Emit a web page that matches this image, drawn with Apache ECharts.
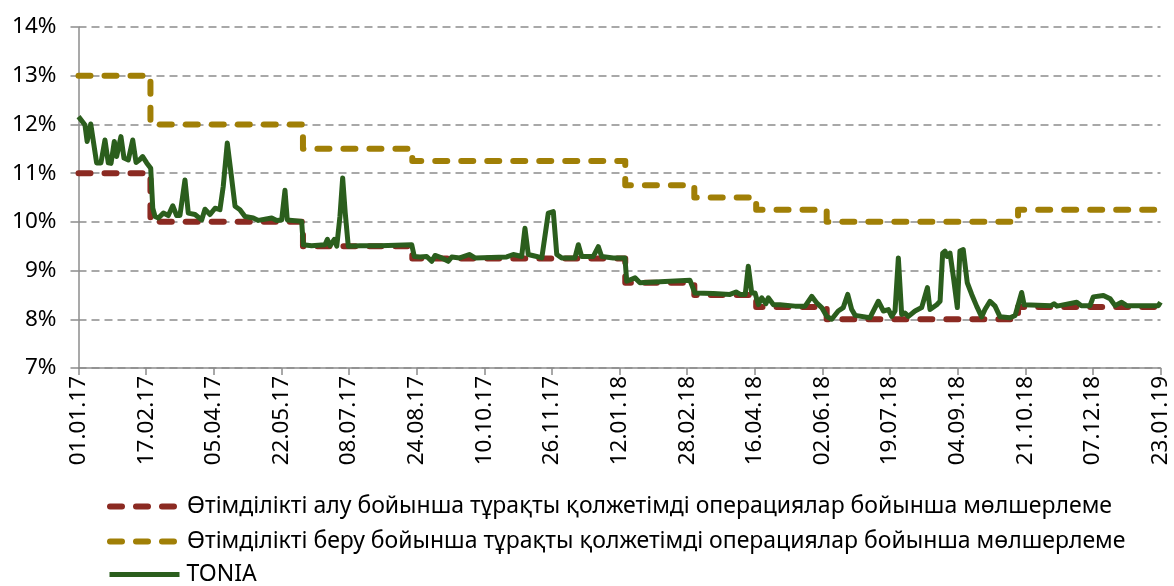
<!DOCTYPE html>
<html>
<head>
<meta charset="utf-8">
<script src="https://cdn.jsdelivr.net/npm/echarts@6/dist/echarts.min.js"></script>
<style>
html,body{margin:0;padding:0;background:#fff;}
#chart{width:1174px;height:586px;}
</style>
</head>
<body>
<div id="chart"></div>
<script>
// Day offsets are counted from 01.01.2017
var startDate = Date.UTC(2017, 0, 1);
var tickStepDays = 47;
var axisMaxDays = 752;

var seriesNames = [
  'Өтімділікті алу бойынша тұрақты қолжетімді операциялар бойынша мөлшерлеме',
  'Өтімділікті беру бойынша тұрақты қолжетімді операциялар бойынша мөлшерлеме',
  'TONIA'
];

// Policy corridor change days and rates (%)
var rateChangeDays = [0, 50, 156, 232, 380, 428, 471, 520, 653, 752];
var floorRates     = [11, 10, 9.5, 9.25, 8.75, 8.5, 8.25, 8, 8.25, 8.25];
var ceilingRates   = [13, 12, 11.5, 11.25, 10.75, 10.5, 10.25, 10, 10.25, 10.25];

// TONIA readings (day offset, %)
var toniaDays = [0,4.5,6,8.5,12.6,15.6,18.4,20.7,22.6,24.9,26.5,29.5,31.6,34.6,37.7,40,42.3,44.6,47.4,50.2,
  51.6,53.2,55.5,59,62.4,65.5,68.2,70.5,74,76.3,81,85.6,87.9,91.4,94.9,98.3,100.6,103.4,106,108.8,
  112.2,115.7,121.5,125,134.3,137.7,141.2,143.5,145.1,155.1,156.2,162,171.3,173,174.8,177.8,179.5,181.7,183.6,185.4,
  187.5,195.6,209.5,231.6,233.4,237.3,242,245.5,247.8,252.4,257,259.4,265,271.6,275.6,297.6,302.2,308,310.3,312.6,
  318.4,322,326.5,330,332.4,335.8,345,347.4,349.7,357.8,361.3,363.6,371.7,379.8,381,386.8,390.2,425,428.4,441.2,
  452.8,457,459.9,463.4,465.5,467.9,470.2,472.5,474.8,477.8,479.4,483,487.5,498,505,509.6,513,516.5,520,523.5,
  528,531.5,534.6,537.4,539.8,550,555.9,559.4,562.9,565.2,567.5,569.8,572.1,574.4,576.8,581.4,586,590,591.8,596.5,
  598.8,600.6,602.2,603.8,605.7,608,610.8,612.6,614.9,617.7,620.8,624.2,627.7,630,633.5,637,640.5,647.4,651,655.5,
  657.2,676,678,680,693.8,697,703,705.3,712.3,717,720.4,725,728.5,750.5,752];
var toniaValues = [12.16,11.99,11.65,12.01,11.21,11.21,11.68,11.21,11.2,11.65,11.34,11.75,11.31,11.27,11.68,11.22,11.27,11.34,11.21,11.1,
  10.28,10.11,10.08,10.18,10.13,10.33,10.13,10.13,10.86,10.18,10.15,10.04,10.26,10.15,10.28,10.25,10.73,11.62,11.0,10.32,
  10.25,10.11,10.08,10.03,10.08,10.03,10.04,10.65,10.04,10.01,9.53,9.51,9.53,9.64,9.51,9.64,9.5,10.11,10.9,10.18,
  9.5,9.51,9.51,9.53,9.29,9.28,9.29,9.19,9.31,9.26,9.19,9.28,9.26,9.33,9.26,9.28,9.33,9.29,9.87,9.33,
  9.29,9.26,10.18,10.21,9.33,9.26,9.26,9.53,9.29,9.29,9.49,9.29,9.26,9.26,8.78,8.85,8.75,8.8,8.54,8.53,
  8.51,8.56,8.51,8.51,9.09,8.54,8.54,8.3,8.44,8.32,8.44,8.3,8.3,8.27,8.27,8.47,8.34,8.24,8.06,8.0,
  8.17,8.24,8.51,8.2,8.08,8.03,8.37,8.17,8.2,8.06,8.17,9.26,8.1,8.13,8.06,8.17,8.24,8.65,8.2,8.3,
  8.37,9.36,9.4,9.29,9.36,8.88,8.24,9.4,9.43,8.75,8.51,8.27,8.05,8.2,8.37,8.27,8.05,8.03,8.08,8.55,
  8.3,8.28,8.32,8.27,8.35,8.28,8.28,8.46,8.49,8.42,8.28,8.35,8.28,8.28,8.35];

function zip(xs, ys) { return xs.map(function (x, i) { return [x, ys[i]]; }); }
function fmtDay(d) {
  var dt = new Date(startDate + d * 86400000);
  var dd = ('0' + dt.getUTCDate()).slice(-2);
  var mm = ('0' + (dt.getUTCMonth() + 1)).slice(-2);
  var yy = ('' + dt.getUTCFullYear()).slice(-2);
  return dd + '.' + mm + '.' + yy;
}

var FONT = 'Noto Sans';
var RED = '#8b2a22', GOLD = '#a07f06', GREEN = '#2b5e1d';

function legendRow(name, top, w) {
  return {
    orient: 'horizontal', left: 102, top: top, padding: 5,
    itemWidth: 70, itemHeight: 14, itemGap: 0,
    itemStyle: {opacity: 0},
    lineStyle: {width: w},
    textStyle: {fontFamily: FONT, fontSize: 23, color: '#000', padding: [0, 0, 0, 2]},
    data: [name]
  };
}

var chart = echarts.init(document.getElementById('chart'), null, {renderer: 'canvas'});
chart.setOption({
  animation: false,
  backgroundColor: '#ffffff',
  grid: {left: 78.5, right: 13.5, top: 27, bottom: 218, containLabel: false},
  legend: [
    legendRow(seriesNames[0], 490, 6),
    legendRow(seriesNames[1], 525, 6),
    legendRow(seriesNames[2], 558, 5)
  ],
  xAxis: {
    type: 'value',
    min: 0,
    max: axisMaxDays,
    interval: tickStepDays,
    axisLine: {show: true, lineStyle: {color: '#8c8c8c', width: 1.5}},
    axisTick: {show: true, length: 7, lineStyle: {color: '#8c8c8c', width: 1.5}},
    splitLine: {show: false},
    axisLabel: {
      rotate: 90, margin: 8, fontFamily: FONT, fontSize: 22.5, color: '#000',
      showMinLabel: true, showMaxLabel: true,
      formatter: function (v) { return fmtDay(v); }
    }
  },
  yAxis: {
    type: 'value',
    min: 7,
    max: 14,
    interval: 1,
    axisLine: {show: true, lineStyle: {color: '#8c8c8c', width: 1.5}},
    axisTick: {show: true, length: 8, lineStyle: {color: '#8c8c8c', width: 1.5}},
    splitLine: {show: true, lineStyle: {color: '#8c8c8c', width: 1.5, type: [8, 5]}},
    axisLabel: {margin: 22, fontFamily: FONT, fontSize: 22.5, color: '#000', formatter: '{value}%'}
  },
  series: [
    {
      name: seriesNames[0], type: 'line', step: 'end', showSymbol: false, symbol: 'none',
      data: zip(rateChangeDays, floorRates),
      itemStyle: {color: RED},
      lineStyle: {color: RED, width: 6, type: [12, 14], cap: 'round', join: 'round'},
      z: 2
    },
    {
      name: seriesNames[1], type: 'line', step: 'end', showSymbol: false, symbol: 'none',
      data: zip(rateChangeDays, ceilingRates),
      itemStyle: {color: GOLD},
      lineStyle: {color: GOLD, width: 6, type: [12, 14], cap: 'round', join: 'round'},
      z: 2
    },
    {
      name: seriesNames[2], type: 'line', showSymbol: false, symbol: 'none',
      data: zip(toniaDays, toniaValues),
      itemStyle: {color: GREEN},
      lineStyle: {color: GREEN, width: 5, join: 'round'},
      z: 3
    }
  ]
});
</script>
</body>
</html>
